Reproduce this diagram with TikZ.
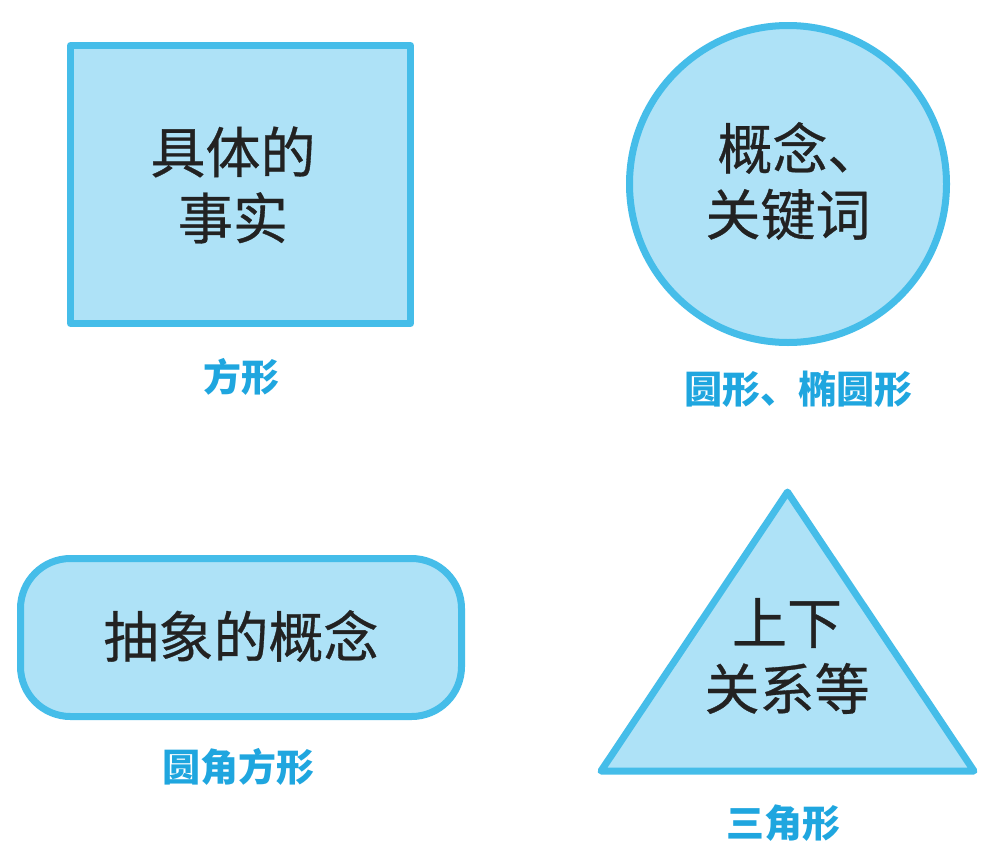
\documentclass[tikz,border=0pt]{standalone}
\usepackage{fontspec}
\newfontfamily\cjk{Noto Sans CJK SC}
\newfontfamily\cjkmed[FakeBold=0.6]{Noto Sans CJK SC}
\usetikzlibrary{shapes.geometric}
\definecolor{edgeblue}{HTML}{45BDE9}
\definecolor{fillblue}{HTML}{AEE2F7}
\definecolor{labelblue}{HTML}{1FA6DF}
\definecolor{ink}{HTML}{222222}
\tikzset{
  shapebox/.style={draw=edgeblue, fill=fillblue, line width=7pt, line join=round, inner sep=0pt},
  maintext/.style={text=ink, align=center, inner sep=0pt, font=\cjkmed\fontsize{55}{66}\selectfont},
  caption/.style={text=labelblue, inner sep=0pt, font=\cjk\bfseries\fontsize{38}{44}\selectfont}
}
\begin{document}
\begin{tikzpicture}[x=1pt,y=-1pt]
\useasboundingbox (0,0) rectangle (1000,862);
\fill[white] (0,0) rectangle (1000,862);
% square
\node[shapebox, rectangle, minimum width=340pt, minimum height=278pt] (sq) at (240.5,184.5) {};
\node[maintext] (sqt) at (233,185) {具体的\\事实};
\node[caption] (sqc) at (241,377) {方形};
% circle
\node[shapebox, circle, minimum size=317pt] (ci) at (788,184) {};
\node[maintext] (cit) at (788,181) {\hspace*{24pt}概念、\\关键词};
\node[caption] (cic) at (798,389) {圆形、椭圆形};
% rounded rectangle
\node[shapebox, rectangle, rounded corners=50pt, minimum width=441pt, minimum height=158pt] (rr) at (241,637.5) {};
\node[maintext] (rrt) at (241,636) {抽象的概念};
\node[caption] (rrc) at (238,767) {圆角方形};
% triangle
\coordinate (ta) at (787.5,492);
\coordinate (tl) at (601,771);
\coordinate (tr) at (974,771);
\draw[shapebox] (ta) -- (tl) -- (tr) -- cycle;
\node[maintext] (trt) at (787,656) {上下\\关系等};
\node[caption] (trc) at (783,823) {三角形};
\end{tikzpicture}
\end{document}
